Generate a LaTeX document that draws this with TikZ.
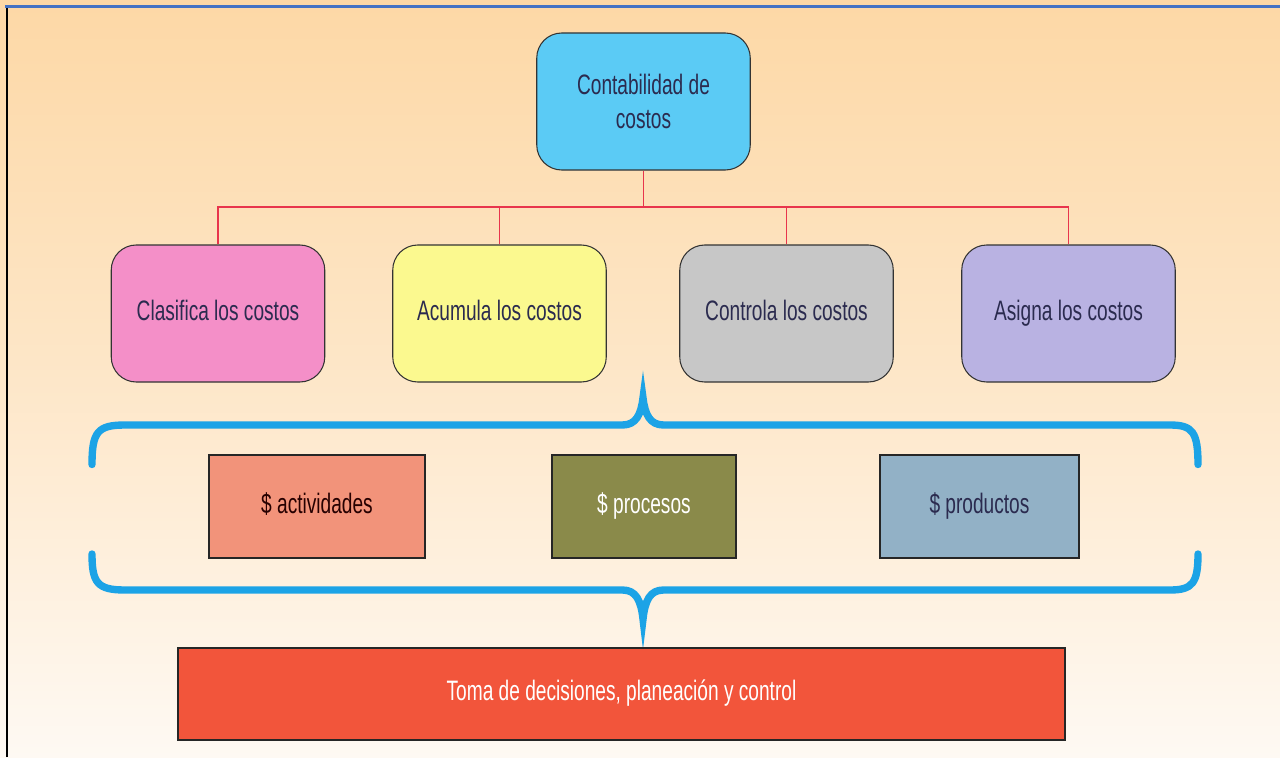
\documentclass[tikz,border=0pt]{standalone}
\usepackage{fontspec}
\setmainfont[FakeStretch=0.68]{Liberation Sans}

\definecolor{peach}{HTML}{FDD8A6}
\definecolor{paper}{HTML}{FEF9F3}
\definecolor{framblue}{HTML}{4472C4}
\definecolor{busred}{HTML}{E8354C}
\definecolor{braceblue}{HTML}{1CA3E6}
\definecolor{textnavy}{HTML}{2B2B4F}
\definecolor{topfill}{HTML}{5BCBF5}
\definecolor{pinkfill}{HTML}{F48FC8}
\definecolor{yellowfill}{HTML}{FBF98F}
\definecolor{grayfill}{HTML}{C7C7C7}
\definecolor{lilacfill}{HTML}{B9B2E2}
\definecolor{salmonfill}{HTML}{F2937A}
\definecolor{olivefill}{HTML}{8A8A4A}
\definecolor{steelfill}{HTML}{92B1C6}
\definecolor{tomatofill}{HTML}{F2553B}

\tikzset{
  roundbox/.style={draw=black!80, line width=0.6pt, rounded corners=0.5cm,
    minimum width=4.27cm, minimum height=2.74cm, align=center,
    text=textnavy, font=\fontsize{16}{19}\selectfont},
  costbox/.style={draw=black!85, line width=0.7pt, minimum height=2.06cm,
    font=\fontsize{16}{19}\selectfont},
  busline/.style={draw=busred, line width=1pt},
  bracket/.style={draw=braceblue, line width=4.2pt, line cap=round}
}

\begin{document}
\begin{tikzpicture}
\useasboundingbox (0,0) rectangle (25.6,15.14);
\shade[top color=peach, bottom color=paper, middle color=peach!55!paper]
       (0,0) rectangle (25.6,15.14);

% frame
\draw[framblue, line width=2pt] (0.1,15.01) -- (25.6,15.01);
\draw[black, line width=0.8pt] (0.14,0) -- (0.14,14.98);

% top
\node[roundbox, fill=topfill] (cont) at (12.87,13.11) {Contabilidad de\\costos};

% four tasks
\node[roundbox, fill=pinkfill]   (clas) at (4.36,8.87)  {\strut Clasifica los costos};
\node[roundbox, fill=yellowfill] (acum) at (9.99,8.87)  {\strut Acumula los costos};
\node[roundbox, fill=grayfill]   (cont2) at (15.73,8.87) {\strut Controla los costos};
\node[roundbox, fill=lilacfill]  (asig) at (21.37,8.87) {\strut Asigna los costos};

\coordinate (bus) at (12.87,11.0);
\draw[busline] (cont.south) -- (bus);
\foreach \n in {clas,acum,cont2,asig}
\draw[busline] (bus) -| (\n.north);

% braces
\draw[bracket] (1.84,5.85) .. controls (1.84,6.5) and (1.95,6.64) .. (2.5,6.64)
   -- (12.45,6.64) .. controls (12.72,6.64) and (12.82,6.85) .. (12.86,7.18)
   .. controls (12.9,6.85) and (13.0,6.64) .. (13.27,6.64)
   -- (23.4,6.64) .. controls (23.85,6.64) and (23.96,6.5) .. (23.96,5.85);
\draw[bracket] (1.84,4.06) .. controls (1.84,3.48) and (1.95,3.34) .. (2.5,3.34)
   -- (12.45,3.34) .. controls (12.72,3.34) and (12.82,3.13) .. (12.86,2.76)
   .. controls (12.9,3.13) and (13.0,3.34) .. (13.27,3.34)
   -- (23.4,3.34) .. controls (23.85,3.34) and (23.96,3.48) .. (23.96,4.06);

% costs
\node[costbox, fill=salmonfill, minimum width=4.32cm, text=black!75!red!60!black] (activ) at (6.34,5.01) {\strut\$ actividades};
\node[costbox, fill=olivefill, minimum width=3.68cm, text=white] (proc) at (12.88,5.01) {\strut\$ procesos};
\node[costbox, fill=steelfill, minimum width=3.98cm, text=textnavy] (prod) at (19.59,5.01) {\strut\$ productos};

% decisions
\node[costbox, fill=tomatofill, minimum width=17.74cm, minimum height=1.84cm, text=white] (toma) at (12.43,1.26) {\strut Toma de decisiones, planeación y control};
\end{tikzpicture}
\end{document}
